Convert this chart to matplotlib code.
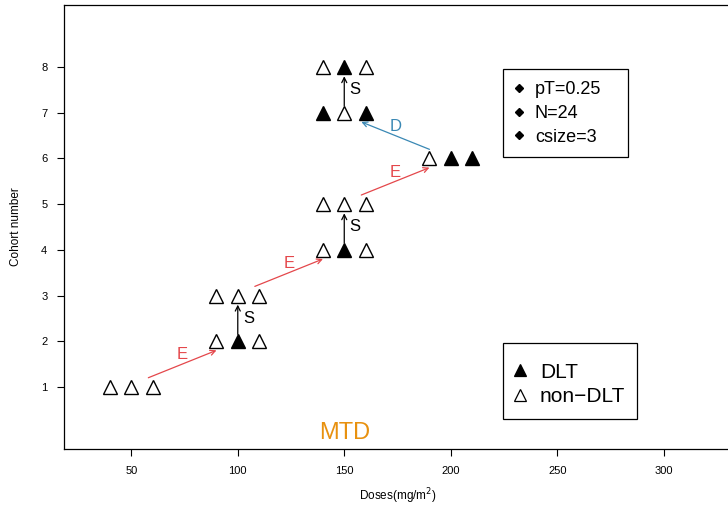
import matplotlib
matplotlib.use("Agg")
import matplotlib.pyplot as plt
from matplotlib.lines import Line2D
from matplotlib.patches import Rectangle

plt.rcParams['font.family'] = ['Liberation Sans', 'DejaVu Sans']

# Doses given to each patient, per cohort (3 patients per cohort)
cohorts = [1, 2, 3, 4, 5, 6, 7, 8]
doses = [
    [40, 50, 60],
    [90, 100, 110],
    [90, 100, 110],
    [140, 150, 160],
    [140, 150, 160],
    [190, 200, 210],
    [140, 150, 160],
    [140, 150, 160],
]
# 1 = dose-limiting toxicity observed, 0 = none
dlt = [
    [0, 0, 0],
    [0, 1, 0],
    [0, 0, 0],
    [0, 1, 0],
    [0, 0, 0],
    [0, 1, 1],
    [1, 0, 1],
    [0, 1, 0],
]
# Dose decisions between consecutive cohorts: E=escalate, S=stay, D=de-escalate
decisions = ['E', 'S', 'E', 'S', 'E', 'D', 'S']
mtd_dose = 150

design_labels = ['pT=0.25', 'N=24', 'csize=3']
outcome_labels = ['DLT', 'non\u2212DLT']

dec_colors = {'E': '#E4474B', 'D': '#3A88B4', 'S': 'black'}

W, H = 728, 505
fig = plt.figure(figsize=(W / 100, H / 100), dpi=100)
ax = fig.add_axes([64 / W, 1 - 449 / H, 667 / W, 444 / H])
ax.set_xlim(18.4, 331.6)
ax.set_ylim(-0.36, 9.36)

for c, ds, ts in zip(cohorts, doses, dlt):
    for d, t in zip(ds, ts):
        ax.plot(d, c, marker='^', markersize=10.5, linestyle='none',
                markerfacecolor='black' if t else 'white',
                markeredgecolor='black', markeredgewidth=1.0, zorder=3)

# Arrows between cohorts
for i, dec in enumerate(decisions):
    c0 = cohorts[i]
    col = dec_colors[dec]
    if dec == 'S':
        x = doses[i][1]
        ax.annotate('', xy=(x, c0 + 0.8), xytext=(x, c0 + 0.15),
                    arrowprops=dict(arrowstyle='->', color=col, lw=0.9,
                                    shrinkA=0, shrinkB=0, mutation_scale=9))
        ax.text(x + 2.5, c0 + 0.5, dec, color=col, fontsize=12,
                ha='left', va='center')
    else:
        if dec == 'E':
            x0 = doses[i][2] - 2
            x1 = doses[i + 1][0]
        else:
            x0 = doses[i][0]
            x1 = doses[i + 1][2] - 2
        y0, y1 = c0 + 0.2, c0 + 0.8
        ax.annotate('', xy=(x1, y1), xytext=(x0, y0),
                    arrowprops=dict(arrowstyle='->', color=col, lw=0.9,
                                    shrinkA=0, shrinkB=0, mutation_scale=9))
        ax.text((x0 + x1) / 2, c0 + 0.7, dec, color=col, fontsize=12,
                ha='center', va='center')

ax.text(mtd_dose, 0, 'MTD', color='#E8910F', fontsize=17,
        ha='center', va='center')

ax.set_xticks([50, 100, 150, 200, 250, 300])
ax.set_yticks(cohorts)
ax.tick_params(direction='out', length=5, width=0.8, labelsize=8, pad=7)
ax.set_xlabel('Doses(mg/m$^2$)', fontsize=8.5, labelpad=8)
ax.set_ylabel('Cohort number', fontsize=8.5, labelpad=14)
for s in ax.spines.values():
    s.set_linewidth(0.9)


def px(x, y):
    """Figure pixel position (from top-left) to figure fraction."""
    return x / W, 1 - y / H


def legend_box(x0, y0, x1, y1):
    fx0, fy1 = px(x0, y0)
    fx1, fy0 = px(x1, y1)
    fig.add_artist(Rectangle((fx0, fy0), fx1 - fx0, fy1 - fy0,
                             transform=fig.transFigure, facecolor='white',
                             edgecolor='black', linewidth=0.9, zorder=5))


# Design-parameter legend
legend_box(503, 69, 628, 157)
for lab, yy in zip(design_labels, [88, 112, 135]):
    mx, my = px(519, yy)
    fig.add_artist(Line2D([mx], [my], marker='D', color='black',
                          markersize=4.2, linestyle='none',
                          transform=fig.transFigure, zorder=6))
    tx, ty = px(535, yy)
    fig.text(tx, ty, lab, fontsize=13, ha='left', va='center_baseline',
             zorder=6)

# Outcome legend
legend_box(503, 343, 637, 419)
for lab, fill, yy in zip(outcome_labels, ['black', 'white'], [370, 395]):
    mx, my = px(520, yy)
    fig.add_artist(Line2D([mx], [my], marker='^', color='black',
                          markerfacecolor=fill, markeredgewidth=0.9,
                          markersize=8, linestyle='none',
                          transform=fig.transFigure, zorder=6))
    tx, ty = px(540, yy)
    fig.text(tx, ty, lab, fontsize=15, ha='left', va='center_baseline',
             zorder=6)

fig.savefig('out.png', dpi=100)
